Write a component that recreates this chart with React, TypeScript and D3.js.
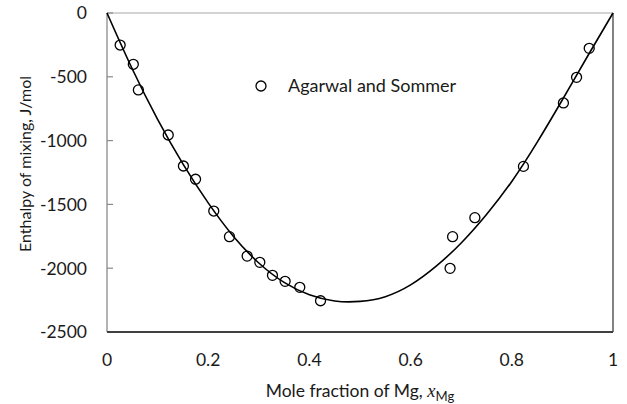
import React from "react";
import * as d3 from "d3";

// Measured data points (Agarwal and Sommer)
const xMeasured = [0.026, 0.052, 0.062, 0.121, 0.151, 0.175, 0.211, 0.242, 0.277, 0.302, 0.327, 0.352, 0.381, 0.422, 0.678, 0.683, 0.727, 0.823, 0.902, 0.928, 0.953];
const hMeasured = [-251, -402, -603, -956, -1199, -1303, -1552, -1753, -1905, -1954, -2056, -2103, -2150, -2255, -2001, -1753, -1604, -1202, -705, -504, -277];

// Calculated curve
const xCurve = [0, 0.05, 0.1, 0.15, 0.2, 0.25, 0.3, 0.35, 0.4, 0.45, 0.5, 0.55, 0.6, 0.65, 0.7, 0.75, 0.8, 0.85, 0.9, 0.95, 1];
const hCurve = [0, -439, -833, -1182, -1488, -1751, -1959, -2111, -2208, -2257, -2260, -2223, -2131, -1986, -1802, -1579, -1320, -1014, -680, -337, 0];

const xTicks = [0, 0.2, 0.4, 0.6, 0.8, 1];
const yTicks = [0, -500, -1000, -1500, -2000, -2500];
const legendLabel = "Agarwal and Sommer";

const W = 627;
const H = 404;
const M = { left: 107, right: 14, top: 13, bottom: 72 };
const FONT = "Lato, 'Open Sans', sans-serif";
const TXT = "#1a1a1a";

export default function App() {
  const x = d3.scaleLinear().domain([0, 1]).range([M.left, W - M.right]);
  const y = d3.scaleLinear().domain([-2500, 0]).range([H - M.bottom, M.top]);
  const line = d3
    .line<number>()
    .x((_, i) => x(xCurve[i]))
    .y((d) => y(d))
    .curve(d3.curveNatural);
  const x0 = x(0), x1 = x(1), y0 = y(-2500), y1 = y(0);
  const fs = 17.5;
  return (
    <svg width={W} height={H} style={{ position: "absolute", left: 0, top: 0, background: "#fff" }} fontFamily={FONT}>
      {/* plot frame */}
      <line x1={x0} x2={x1} y1={y1} y2={y1} stroke="#a6a6a6" strokeWidth={1} />
      <line x1={x1} x2={x1} y1={y1} y2={y0} stroke="#404040" strokeWidth={1.3} />
      <line x1={x0} x2={x0} y1={y1} y2={y0} stroke="#8a8a8a" strokeWidth={1.3} />
      {yTicks.map((t) => (
        <line key={"yt" + t} x1={x0} x2={x0 + 6} y1={y(t)} y2={y(t)} stroke="#8a8a8a" strokeWidth={1.2} />
      ))}
      <line x1={x0} x2={x1} y1={y0} y2={y0} stroke="#404040" strokeWidth={2} />
      {/* y tick labels */}
      {yTicks.map((t) => (
        <text key={"yl" + t} x={87} y={y(t)} dy="0.36em" textAnchor="end" fontSize={fs} fill={TXT}>
          {t}
        </text>
      ))}
      {/* x tick labels */}
      {xTicks.map((t) => (
        <text key={"xl" + t} x={x(t)} y={366} textAnchor="middle" fontSize={fs} fill={TXT}>
          {t}
        </text>
      ))}
      {/* axis titles */}
      <text transform="translate(31,164) rotate(-90)" textAnchor="middle" fontSize={16} fill={TXT}>
        Enthalpy of mixing, J/mol
      </text>
      <text x={(x0 + x1) / 2} y={397} textAnchor="middle" fontSize={fs} fill={TXT}>
        Mole fraction of Mg,{" "}
        <tspan fontFamily="'Liberation Serif', serif" fontStyle="italic" fontSize={fs + 1}>x</tspan>
        <tspan fontSize={fs * 0.75} dy={4}>Mg</tspan>
      </text>
      {/* curve */}
      <path d={line(hCurve) || ""} fill="none" stroke="#000" strokeWidth={1.6} />
      {/* points */}
      {xMeasured.map((v, i) => (
        <circle key={"p" + i} cx={x(v)} cy={y(hMeasured[i])} r={5} fill="none" stroke="#000" strokeWidth={1.3} />
      ))}
      {/* legend */}
      <circle cx={261} cy={86} r={5} fill="none" stroke="#000" strokeWidth={1.3} />
      <text x={288} y={86} dy="0.36em" fontSize={18} fill={TXT}>
        {legendLabel}
      </text>
    </svg>
  );
}
